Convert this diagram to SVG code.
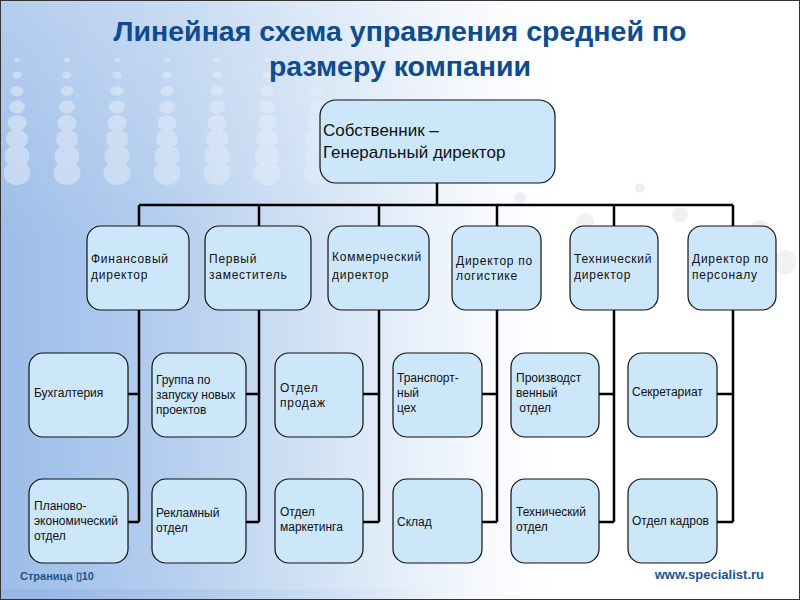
<svg xmlns="http://www.w3.org/2000/svg" width="800" height="600" viewBox="0 0 800 600">
  <defs>
    <linearGradient id="bg" x1="0" y1="0" x2="1" y2="0">
      <stop offset="0" stop-color="#9cbde8"/>
      <stop offset="0.2" stop-color="#b3cdee"/>
      <stop offset="0.4" stop-color="#d3e3f5"/>
      <stop offset="0.6" stop-color="#f6f9fd"/>
      <stop offset="0.7" stop-color="#ffffff"/>
    </linearGradient>
    <linearGradient id="topfade" x1="0" y1="0" x2="0" y2="1">
      <stop offset="0" stop-color="#ffffff" stop-opacity="0.25"/>
      <stop offset="0.4" stop-color="#ffffff" stop-opacity="0"/>
    </linearGradient>
    <linearGradient id="fadeR" x1="0" y1="0" x2="1" y2="0">
      <stop offset="0" stop-color="#fff" stop-opacity="1"/>
      <stop offset="0.75" stop-color="#fff" stop-opacity="0.6"/>
      <stop offset="1" stop-color="#fff" stop-opacity="0"/>
    </linearGradient>
    <linearGradient id="band" x1="0" y1="0" x2="1" y2="0">
      <stop offset="0" stop-color="#7fa7dc" stop-opacity="0.3"/>
      <stop offset="1" stop-color="#7fa7dc" stop-opacity="0"/>
    </linearGradient>
    <mask id="dotmask">
      <rect x="0" y="50" width="380" height="145" fill="url(#fadeR)"/>
    </mask>
    <pattern id="dots" patternUnits="userSpaceOnUse" x="-8" y="52" width="50" height="140">
      <g fill="#ffffff">
        <ellipse cx="25" cy="8" rx="3" ry="2"/>
        <ellipse cx="25" cy="23" rx="4.5" ry="3.5"/>
        <ellipse cx="25" cy="39" rx="6.5" ry="5"/>
        <ellipse cx="25" cy="55" rx="8" ry="6.5"/>
        <ellipse cx="25" cy="71" rx="9.5" ry="8"/>
        <ellipse cx="25" cy="87" rx="11" ry="9.5"/>
        <ellipse cx="25" cy="104" rx="12.5" ry="11"/>
        <ellipse cx="25" cy="121" rx="13.5" ry="12"/>
      </g>
    </pattern>
    <style>
      .box { fill: #cde7fa; stroke: #111; stroke-width: 1.2; }
      .conn { fill: none; stroke: #000; stroke-width: 2.5; }
      .t { font-family: "Liberation Sans", Arial, sans-serif; font-size: 12px; fill: #111; }
      .t2 { letter-spacing: 0.75px; }
      .top { font-family: "Liberation Sans", Arial, sans-serif; font-size: 17px; fill: #111; }
      .title { font-family: "Liberation Sans", Arial, sans-serif; font-size: 28.5px; font-weight: bold; fill: #0f4b8d; }
      .foot { font-family: "Liberation Sans", Arial, sans-serif; font-weight: bold; fill: #1a5494; }
    </style>
  </defs>

  <!-- background -->
  <rect x="0" y="0" width="800" height="600" fill="url(#bg)"/>
  <rect x="0" y="0" width="800" height="600" fill="url(#topfade)"/>
  <g opacity="0.38" mask="url(#dotmask)">
    <rect x="0" y="50" width="380" height="145" fill="url(#dots)"/>
  </g>
  <g fill="#cfd4da" opacity="0.3">
    <circle cx="585" cy="222" r="9"/>
    <circle cx="600" cy="248" r="11"/>
    <circle cx="615" cy="276" r="12"/>
    <circle cx="680" cy="215" r="8"/>
    <circle cx="700" cy="242" r="10"/>
    <circle cx="720" cy="270" r="12"/>
    <circle cx="760" cy="230" r="10"/>
    <circle cx="785" cy="262" r="12"/>
    <circle cx="520" cy="198" r="6"/>
    <circle cx="640" cy="188" r="5"/>
  </g>
  <rect x="0" y="589" width="450" height="11" fill="url(#band)"/>
  <rect x="0.5" y="0.5" width="799" height="599" fill="none" stroke="#333" stroke-width="1"/>

  <!-- title -->
  <text class="title" x="400" y="41" text-anchor="middle">Линейная схема управления средней по</text>
  <text class="title" x="400" y="76" text-anchor="middle">размеру компании</text>

  <!-- connectors -->
  <g id="connectors" class="conn">
    <path d="M437,183 V205"/>
    <path d="M139,205 H733"/>
    <path d="M139,205 V226 M259,205 V226 M379,205 V226 M497,205 V226 M614,205 V226 M733,205 V226"/>
    <path d="M139,310 V522 M259,310 V522 M379,310 V522 M497,310 V522 M614,310 V522 M733,310 V522"/>
    <path d="M128,394 H139 M246,394 H259 M363,394 H379 M482,394 H497 M599,394 H614 M717,394 H733"/>
    <path d="M128,522 H139 M246,522 H259 M363,522 H379 M482,522 H497 M599,522 H614 M717,522 H733"/>
  </g>

  <!-- top node -->
  <g id="owner">
    <rect class="box" x="320" y="100" width="235" height="83" rx="16"/>
    <text class="top" x="323" y="136">Собственник –</text>
    <text class="top" x="323" y="158">Генеральный директор</text>
  </g>

  <!-- level 2 -->
  <g id="fin-dir">
    <rect class="box" x="87" y="226" width="102" height="84" rx="14"/>
    <text class="t t2" x="91" y="263">Финансовый</text>
    <text class="t t2" x="91" y="279">директор</text>
  </g>
  <g id="first-deputy">
    <rect class="box" x="205" y="226" width="106" height="84" rx="14"/>
    <text class="t t2" x="209" y="263">Первый</text>
    <text class="t t2" x="209" y="279">заместитель</text>
  </g>
  <g id="com-dir">
    <rect class="box" x="328" y="226" width="101" height="84" rx="14"/>
    <text class="t t2" x="332" y="261">Коммерческий</text>
    <text class="t t2" x="332" y="279">директор</text>
  </g>
  <g id="log-dir">
    <rect class="box" x="452" y="226" width="89" height="84" rx="14"/>
    <text class="t t2" x="456" y="265">Директор по</text>
    <text class="t t2" x="456" y="280">логистике</text>
  </g>
  <g id="tech-dir">
    <rect class="box" x="570" y="226" width="88" height="84" rx="14"/>
    <text class="t t2" x="574" y="263">Технический</text>
    <text class="t t2" x="574" y="279">директор</text>
  </g>
  <g id="hr-dir">
    <rect class="box" x="688" y="226" width="88" height="84" rx="14"/>
    <text class="t t2" x="692" y="263">Директор по</text>
    <text class="t t2" x="692" y="279">персоналу</text>
  </g>

  <!-- level 3 -->
  <g id="accounting">
    <rect class="box" x="29" y="353" width="99" height="84" rx="14"/>
    <text class="t" x="34" y="397">Бухгалтерия</text>
  </g>
  <g id="new-projects">
    <rect class="box" x="152" y="353" width="94" height="84" rx="14"/>
    <text class="t" x="156" y="384">Группа по</text>
    <text class="t" x="156" y="399">запуску новых</text>
    <text class="t" x="156" y="414">проектов</text>
  </g>
  <g id="sales">
    <rect class="box" x="275" y="353" width="88" height="84" rx="14"/>
    <text class="t t2" x="280" y="392">Отдел</text>
    <text class="t t2" x="280" y="407">продаж</text>
  </g>
  <g id="transport">
    <rect class="box" x="393" y="353" width="89" height="84" rx="14"/>
    <text class="t" x="397" y="382">Транспорт-</text>
    <text class="t" x="397" y="397">ный</text>
    <text class="t" x="397" y="412">цех</text>
  </g>
  <g id="production">
    <rect class="box" x="511" y="353" width="88" height="84" rx="14"/>
    <text class="t" x="516" y="382">Производст</text>
    <text class="t" x="516" y="397">венный</text>
    <text class="t" x="516" y="412" xml:space="preserve"> отдел</text>
  </g>
  <g id="secretariat">
    <rect class="box" x="628" y="353" width="89" height="84" rx="14"/>
    <text class="t" x="632" y="396">Секретариат</text>
  </g>

  <!-- level 4 -->
  <g id="planning">
    <rect class="box" x="29" y="479" width="99" height="84" rx="14"/>
    <text class="t" x="34" y="510">Планово-</text>
    <text class="t" x="34" y="525">экономический</text>
    <text class="t" x="34" y="540">отдел</text>
  </g>
  <g id="advertising">
    <rect class="box" x="152" y="479" width="94" height="84" rx="14"/>
    <text class="t" x="156" y="517">Рекламный</text>
    <text class="t" x="156" y="532">отдел</text>
  </g>
  <g id="marketing">
    <rect class="box" x="275" y="479" width="88" height="84" rx="14"/>
    <text class="t" x="280" y="516">Отдел</text>
    <text class="t" x="280" y="531">маркетинга</text>
  </g>
  <g id="warehouse">
    <rect class="box" x="393" y="479" width="89" height="84" rx="14"/>
    <text class="t" x="397" y="526">Склад</text>
  </g>
  <g id="tech-dept">
    <rect class="box" x="511" y="479" width="88" height="84" rx="14"/>
    <text class="t" x="516" y="516">Технический</text>
    <text class="t" x="516" y="531">отдел</text>
  </g>
  <g id="personnel">
    <rect class="box" x="628" y="479" width="89" height="84" rx="14"/>
    <text class="t" x="632" y="525">Отдел кадров</text>
  </g>

  <!-- footer -->
  <text class="foot" x="20" y="580" font-size="11">Страница ▯10</text>
  <text class="foot" x="764" y="579" font-size="13" text-anchor="end">www.specialist.ru</text>
</svg>
